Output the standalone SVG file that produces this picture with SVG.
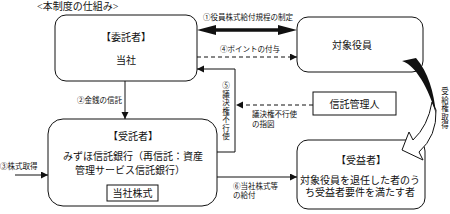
<svg xmlns="http://www.w3.org/2000/svg" width="450" height="214" viewBox="0 0 450 214">
<defs>
<style>
text{font-family:"Liberation Serif","Noto Sans CJK JP",serif;fill:#111;}
.box{fill:#fff;stroke:#111;stroke-width:1;}
.t10{font-size:10px;}
.t7{font-size:7.5px;}
.mid{text-anchor:middle;}
.end{text-anchor:end;}
.line{fill:none;stroke:#111;stroke-width:1;}
.dash{fill:none;stroke:#111;stroke-width:1;stroke-dasharray:4,3;}
</style>
<marker id="ah" markerUnits="userSpaceOnUse" markerWidth="8" markerHeight="8" refX="7" refY="3.5" orient="auto">
<path d="M0,0 L7,3.5 L0,7 Z" fill="#111"/>
</marker>
</defs>

<text class="t10" x="37" y="10">&lt;本制度の仕組み&gt;</text>

<g id="connectors">
<polygon points="197,30 216,25 216,28.3 278,28.3 278,25 297,30 278,35 278,31.7 216,31.7 216,35" fill="#111"/>
<text class="t7 mid" x="248" y="20">①役員株式給付規程の制定</text>
<path class="dash" d="M197,57 H297" marker-end="url(#ah)"/>
<text class="t7 mid" x="250" y="52">④ポイントの付与</text>
<path class="line" d="M125,81 V119" marker-end="url(#ah)"/>
<text class="t7 end" x="122" y="103">②金銭の信託</text>
<path class="line" d="M15,175 H48" marker-end="url(#ah)"/>
<text class="t7" x="0" y="169">③株式取得</text>
<path class="line" d="M217,152 H235 V69 H197" marker-end="url(#ah)"/>
<text class="t7 mid">
<tspan x="226" y="88">⑤</tspan><tspan x="226" y="96.5">議</tspan><tspan x="226" y="105">決</tspan><tspan x="226" y="113.5">権</tspan><tspan x="226" y="122">不</tspan><tspan x="226" y="130.5">行</tspan><tspan x="226" y="139">使</tspan>
</text>
<path class="dash" d="M313,105 H236" marker-end="url(#ah)"/>
<text class="t7" x="252" y="117">議決権不行使</text>
<text class="t7" x="252" y="126.5">の指図</text>
<path class="line" d="M217,177 H297" marker-end="url(#ah)"/>
<text class="t7" x="233" y="189">⑥当社株式等</text>
<text class="t7" x="233" y="198">の給付</text>
<text class="t7 mid">
<tspan x="445" y="94">受</tspan><tspan x="445" y="102.5">給</tspan><tspan x="445" y="111">権</tspan><tspan x="445" y="119.5">取</tspan><tspan x="445" y="128">得</tspan>
</text>
</g>

<g id="node-itakusha">
<rect class="box" x="55" y="15" width="142" height="66" rx="11"/>
<text class="t10 mid" x="126" y="41">【委託者】</text>
<text class="t10 mid" x="126" y="64">当社</text>
</g>

<g id="node-taisho">
<rect class="box" x="297" y="17" width="126" height="55" rx="11"/>
<text class="t10 mid" x="352" y="49">対象役員</text>
</g>

<g id="node-shintaku-kanrinin">
<rect class="box" x="313" y="92" width="83" height="23"/>
<text class="t10 mid" x="354.5" y="108">信託管理人</text>
</g>

<g id="node-jutakusha">
<rect class="box" x="48" y="119" width="169" height="87" rx="15"/>
<text class="t10 mid" x="133" y="140">【受託者】</text>
<text class="t10" x="63" y="160">みずほ信託銀行（再信託：資産</text>
<text class="t10" x="75" y="174">管理サービス信託銀行）</text>
<rect class="box" x="107" y="185" width="51" height="16"/>
<text class="t10 mid" x="132.5" y="197">当社株式</text>
</g>

<g id="node-jyuekisha">
<rect class="box" x="297" y="140" width="128" height="69" rx="11"/>
<text class="t10 mid" x="361" y="164">【受益者】</text>
<text class="t10 mid" x="360" y="184">対象役員を退任した者のう</text>
<text class="t10 mid" x="360" y="196">ち受益者要件を満たす者</text>
</g>

<g id="curved-arrow">
<path d="M436,110 Q437,136 419,152 L423,160 L402,150 L409,132 L413,140 Q428,126 432,102 Z" fill="#fff" stroke="#111" stroke-width="1"/>
<path d="M402,61 C412,64 426,80 436,114 C434,92 428,72 416,58 Z" fill="#111"/>
</g>
</svg>
